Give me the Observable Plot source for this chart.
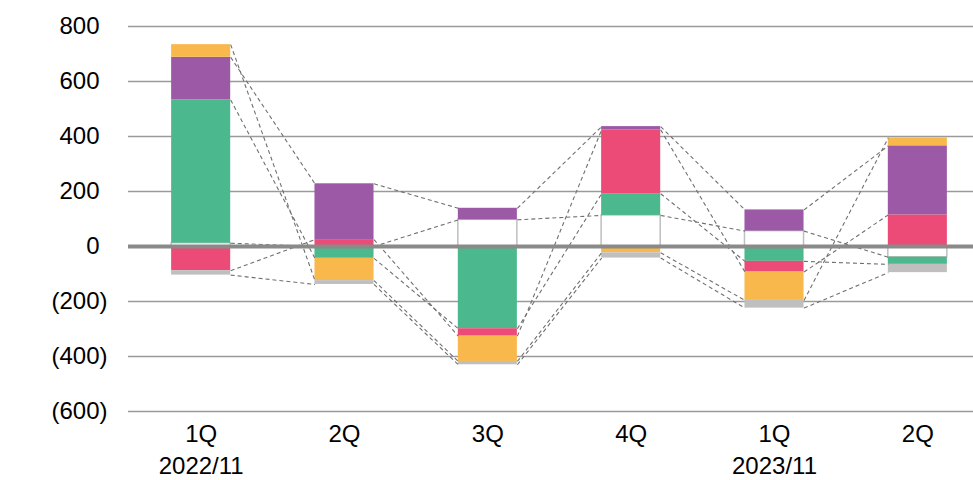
<!DOCTYPE html>
<html>
<head>
<meta charset="utf-8">
<script src="https://cdn.jsdelivr.net/npm/d3@7"></script>
<script src="https://cdn.jsdelivr.net/npm/@observablehq/plot@0.6"></script>
<style>
  html, body { margin: 0; padding: 0; background: white; overflow: hidden; }
</style>
</head>
<body>
<div id="chart"></div>
<script>
// Categories
const quarters = ["1Q", "2Q", "3Q", "4Q", "1Q", "2Q"];
const periods = ["2022/11", "", "", "", "2023/11", ""];

// Series (stack order)
const seriesKeys = ["white", "green", "red", "purple", "orange", "grey"];
const whiteValues  = [12, 0, 97, 113, 56, -39];
const greenValues  = [521, -43, -299, 79, -54, -26];
const redValues    = [-88, 25, -27, 232, -39, 115];
const purpleValues = [155, 203, 42, 12, 77, 251];
const orangeValues = [46, -81, -92, -23, -103, 29];
const greyValues   = [-16, -14, -12, -19, -28, -30];

// Y tick values
const yTicks = [-600, -400, -200, 0, 200, 400, 600, 800];

// Styles
const fills = {white: "#ffffff", green: "#4cb88d", red: "#ec4a77", purple: "#9b59a6", orange: "#f8b84b", grey: "#bfbfbf"};
const strokes = {white: "#bfbfbf", green: "none", red: "none", purple: "none", orange: "none", grey: "none"};

const valuesBySeries = {
  white: whiteValues, green: greenValues, red: redValues,
  purple: purpleValues, orange: orangeValues, grey: greyValues
};

// Stack: positives upward, negatives downward, in series order
const segments = [];
const ends = {};
seriesKeys.forEach(s => ends[s] = []);
quarters.forEach((q, i) => {
  let pos = 0, neg = 0;
  seriesKeys.forEach(s => {
    const v = valuesBySeries[s][i];
    let y1, y2;
    if (v >= 0) { y1 = pos; y2 = pos + v; pos = y2; }
    else { y1 = neg; y2 = neg + v; neg = y2; }
    segments.push({i, s, y1, y2});
    ends[s][i] = y2;
  });
});

const hw = 0.206; // half bar width in band units
const links = [];
seriesKeys.forEach(s => {
  for (let i = 0; i < quarters.length - 1; i++) {
    links.push({s, x1: i + hw, x2: i + 1 - hw, y1: ends[s][i], y2: ends[s][i + 1]});
  }
});

const chart = Plot.plot({
  width: 973,
  height: 480,
  marginLeft: 128,
  marginRight: 0,
  marginTop: 26,
  marginBottom: 69,
  x: {type: "linear", domain: [-0.5, 5.5], range: [129, 989], axis: null},
  y: {domain: [-600, 800], range: [411, 26], axis: null},
  color: {type: "identity"},
  style: {fontFamily: "'Liberation Sans', Arial, sans-serif", fontSize: "24px", color: "#000", background: "white", overflow: "hidden"},
  marks: [
    Plot.ruleY(yTicks.filter(d => d !== 0), {stroke: "#9a9a9a", strokeWidth: 1.5}),
    Plot.rect(segments, {
      x1: d => d.i - hw, x2: d => d.i + hw, y1: "y1", y2: "y2",
      fill: d => fills[d.s], stroke: d => strokes[d.s], strokeWidth: 1.5
    }),
    Plot.link(links, {x1: "x1", x2: "x2", y1: "y1", y2: "y2", stroke: "#707070", strokeWidth: 1.1, strokeDasharray: "4,3"}),
    Plot.ruleY([0], {stroke: "#8a8a8a", strokeWidth: 4}),
    Plot.axisY({ticks: yTicks.filter(d => d >= 0), tickSize: 0, tickPadding: 29, tickFormat: d => String(d), fontSize: 24, fill: "#000"}),
    Plot.axisY({ticks: yTicks.filter(d => d < 0), tickSize: 0, tickPadding: 21, tickFormat: d => `(${-d})`, fontSize: 24, fill: "#000"}),
    Plot.text(quarters.map((q, i) => ({i, q})), {x: "i", y: () => -600, dy: 23, text: "q", fontSize: 24, fill: "#000"}),
    Plot.text(periods.map((p, i) => ({i, p})).filter(d => d.p), {x: "i", y: () => -600, dy: 55, text: "p", fontSize: 24, fill: "#000"})
  ]
});
document.getElementById("chart").appendChild(chart);
</script>
</body>
</html>
